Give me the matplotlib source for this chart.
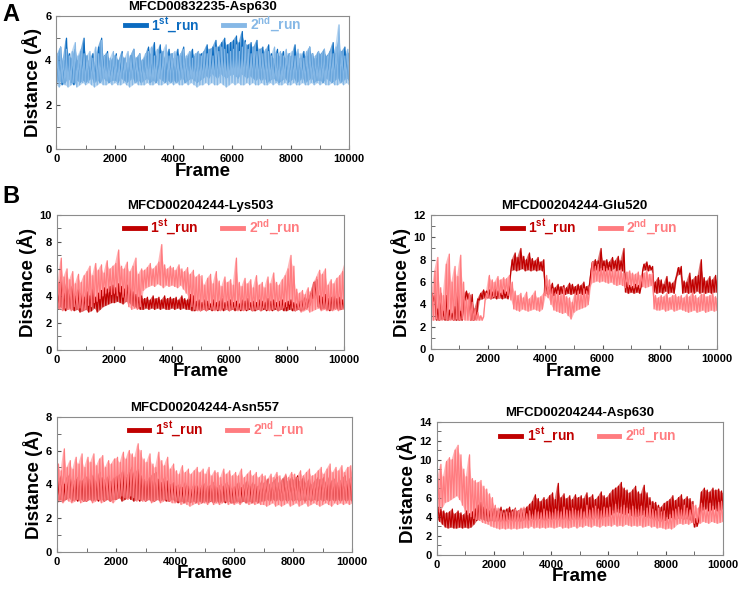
import numpy as np
import matplotlib
matplotlib.use('Agg')
import matplotlib.pyplot as plt

plt.rcParams['font.family'] = ['Liberation Sans', 'DejaVu Sans']
plt.rcParams['font.weight'] = 'bold'
plt.rcParams['mathtext.fontset'] = 'custom'
plt.rcParams['mathtext.rm'] = 'Liberation Sans:bold'
plt.rcParams['mathtext.bf'] = 'Liberation Sans:bold'
plt.rcParams['mathtext.default'] = 'rm'

# frames sampled every 100; each series is read as a low / high envelope
frames = np.arange(0, 10001, 100)

# MFCD00832235-Asp630
a1_low = [3.0,3.1,2.9,3.0,3.2,3.0,2.9,3.1,3.0,3.1, 3.0,3.1,3.2,3.0,3.1,3.0,3.2,3.1,3.0,3.1,
          3.1,3.0,3.2,3.1,3.0,3.1,3.2,3.0,3.1,3.0, 3.1,3.2,3.0,3.1,3.0,3.2,3.1,3.0,3.1,3.0,
          3.1,3.0,3.1,3.2,3.0,3.1,3.2,3.1,3.0,3.1, 3.2,3.3,3.2,3.4,3.3,3.2,3.4,3.3,3.2,3.3,
          3.4,3.3,3.2,3.4,3.3,3.2,3.3,3.2,3.1,3.2, 3.1,3.2,3.0,3.1,3.2,3.1,3.0,3.1,3.2,3.0,
          3.1,3.2,3.0,3.1,3.2,3.0,3.1,3.2,3.0,3.1, 3.1,3.0,3.2,3.1,3.0,3.1,3.2,3.0,3.1,3.2, 3.1]
a1_high = [4.2,4.6,4.0,5.0,4.3,4.1,4.5,4.0,4.4,5.0, 4.2,4.0,4.3,3.9,4.6,5.0,4.2,4.4,4.0,4.1,
           4.3,4.0,4.4,4.1,3.9,4.2,4.5,4.1,4.3,4.0, 4.2,4.6,4.3,4.8,4.2,4.7,4.4,4.1,4.5,4.3,
           4.1,4.5,4.2,4.6,4.1,4.3,4.5,4.2,4.4,4.3, 4.4,4.7,4.5,4.6,4.9,4.6,4.8,5.0,4.7,4.8,
           4.9,5.1,4.8,5.3,4.9,4.7,4.8,4.6,4.9,4.5, 4.6,4.4,4.7,4.3,4.1,4.5,4.2,4.4,4.1,4.3,
           4.2,4.7,4.3,4.1,4.4,4.2,4.6,4.3,4.1,4.4, 4.3,4.5,4.2,4.4,4.8,4.3,4.9,4.4,4.6,4.3, 4.4]
a2_low = [2.9,2.8,3.0,2.9,2.8,2.9,3.0,2.8,2.9,3.0, 2.9,3.0,2.9,2.8,2.9,3.0,2.9,2.9,3.0,2.9,
          3.0,2.9,2.9,3.0,2.9,2.8,2.9,3.0,2.9,2.9, 2.9,3.0,2.9,2.9,3.0,2.9,2.9,3.0,2.9,3.0,
          2.9,3.0,2.9,2.9,3.0,2.9,3.0,2.9,2.8,2.9, 2.9,3.0,2.9,3.0,2.9,2.9,3.0,2.9,2.8,2.9,
          3.0,2.9,3.0,2.9,2.9,3.0,2.9,3.0,2.9,2.9, 3.0,2.9,2.9,3.0,2.9,3.0,2.9,2.9,3.0,2.9,
          2.9,3.0,2.9,2.9,3.0,2.9,2.9,3.0,2.9,3.0, 2.9,3.0,2.9,2.9,3.0,2.9,2.9,3.0,2.9,3.0, 2.9]
a2_high = [4.3,4.6,4.1,4.5,4.2,4.4,4.8,4.2,4.5,4.3, 4.2,4.4,4.1,4.6,4.3,4.9,4.2,4.3,4.1,4.4,
           4.2,4.0,4.3,4.1,4.4,4.2,4.5,4.1,4.3,4.0, 4.3,4.4,4.6,4.2,4.5,4.3,4.4,4.7,4.2,4.3,
           4.4,4.2,4.3,4.5,4.2,4.4,4.1,4.3,4.4,4.2, 4.4,4.3,4.5,4.2,4.6,4.4,4.6,4.5,4.3,4.4,
           4.5,4.7,4.4,4.6,4.8,4.5,4.3,4.6,4.4,4.5, 4.3,4.5,4.4,4.2,4.6,4.3,4.4,4.2,4.5,4.3,
           4.4,4.2,4.5,4.3,4.1,4.4,4.6,4.3,4.2,4.4, 4.3,4.5,4.2,4.4,4.3,4.6,5.6,4.4,4.2,4.5, 4.3]

# MFCD00204244-Lys503
lys1_low = [3.0,3.2,3.0,2.9,3.1,3.0,2.9,3.0,2.8,2.9, 3.0,2.8,2.9,3.1,2.8,3.0,3.2,3.3,3.4,3.5,
            3.5,3.6,3.5,3.4,3.6,3.5,3.3,3.2,3.1,3.0, 3.0,3.1,3.0,3.1,3.0,3.1,3.0,3.1,3.0,3.0,
            3.1,3.0,3.1,3.0,3.1,3.0,3.0,2.9,2.9,3.0, 2.9,3.0,2.9,3.0,2.9,3.0,2.9,3.0,2.9,3.0,
            2.9,3.0,2.9,3.0,2.9,3.0,2.9,3.0,2.9,2.9, 3.0,2.9,3.0,2.9,3.0,2.9,3.0,2.9,3.0,2.9,
            2.9,3.0,2.9,2.9,3.0,2.9,3.0,3.1,3.3,3.8, 4.0,3.2,3.0,3.1,3.0,2.9,3.0,3.1,3.0,3.0, 3.1]
lys1_high = [4.6,5.4,4.2,5.0,4.4,4.8,4.0,4.5,4.2,3.9, 4.3,4.0,4.5,3.9,4.2,4.4,4.6,4.5,4.7,4.8,
             4.6,4.9,4.7,4.5,4.8,4.6,4.3,4.1,3.9,4.0, 3.8,3.9,3.7,4.0,3.8,3.9,3.7,4.0,3.8,3.9,
             3.8,3.9,3.7,4.0,3.8,3.7,4.1,4.0,3.6,3.7, 3.5,3.7,3.6,3.4,3.7,3.5,3.6,3.8,3.5,3.6,
             3.7,3.5,3.6,3.4,3.7,3.6,3.8,3.5,3.6,3.5, 3.7,3.6,3.5,3.8,3.6,3.7,3.5,3.6,3.7,3.5,
             3.6,3.7,3.5,3.4,3.6,3.7,3.9,3.8,4.2,5.0, 5.2,4.0,3.9,4.1,3.8,3.9,4.0,3.8,3.9,3.7, 3.9]
lys2_low = [3.2,3.0,2.9,3.1,3.0,2.9,3.2,3.0,3.1,2.9, 3.0,3.3,3.2,3.5,3.6,3.8,4.0,4.2,4.3,4.1,
            4.2,4.0,4.3,3.9,3.6,3.2,3.0,3.1,3.0,3.2, 4.4,4.6,4.7,4.8,4.7,4.9,4.8,4.6,4.8,4.7,
            4.8,4.7,4.6,4.8,4.5,4.2,3.8,3.2,3.0,2.9, 2.9,3.0,2.9,3.1,3.0,2.9,3.0,2.9,3.1,3.0,
            2.9,3.0,3.1,2.9,3.0,2.9,3.0,3.1,2.9,3.0, 3.0,2.9,3.1,3.0,2.9,3.0,3.1,2.9,3.0,3.1,
            3.2,3.4,3.1,2.9,3.0,2.8,2.9,3.0,2.8,2.9, 3.0,3.1,2.9,3.0,2.9,3.0,2.9,3.0,2.9,3.0, 3.0]
lys2_high = [5.0,6.8,5.4,6.0,5.2,5.8,4.9,5.6,5.0,5.5, 5.8,6.2,5.5,6.4,5.9,6.3,5.7,6.6,6.0,6.2,
             6.4,7.4,6.2,6.0,6.5,5.8,6.2,6.8,5.6,6.0, 5.9,6.1,6.4,6.0,6.2,6.5,7.8,6.3,6.0,6.2,
             6.1,5.9,6.3,6.0,5.8,6.1,5.6,5.9,5.4,5.6, 5.5,4.8,5.3,5.6,4.9,5.8,5.1,4.7,5.4,5.0,
             5.2,4.8,6.8,5.0,4.7,5.3,4.9,5.2,4.6,5.5, 4.8,5.0,4.6,5.4,4.9,5.7,5.0,4.8,5.2,5.5,
             6.0,7.0,6.2,4.5,4.2,4.4,4.1,4.6,4.3,5.0, 5.4,5.9,5.6,6.0,4.8,5.2,4.9,5.3,5.5,5.8, 6.5]

# MFCD00204244-Glu520
glu1_low = [4.2,4.3,2.6,2.6,2.7,2.6,2.6,2.7,2.6,2.6, 2.6,2.6,4.4,4.5,2.6,2.6,2.7,4.4,4.5,4.6,
            4.6,4.5,4.6,4.5,4.6,4.5,4.6,4.5,7.0,7.1, 7.0,7.1,7.2,7.0,7.1,7.0,7.1,7.0,7.1,7.0,
            5.0,4.9,5.0,4.8,5.0,4.9,5.0,4.9,5.0,4.9, 5.0,4.9,5.0,4.9,5.0,4.9,7.0,7.0,7.1,7.0,
            7.1,7.0,7.1,7.0,7.2,7.0,7.1,7.0,5.1,5.0, 5.1,5.0,5.1,5.0,7.0,7.1,7.0,7.1,5.1,5.0,
            5.1,5.0,5.2,5.0,5.1,5.0,6.6,6.7,5.0,5.1, 5.0,5.1,5.0,5.2,5.0,5.1,5.0,5.1,5.0,5.1, 5.1]
glu1_high = [5.0,4.8,3.6,5.0,3.4,4.8,3.5,3.2,3.8,5.2, 3.4,4.8,5.2,5.0,4.9,3.6,4.5,5.0,5.3,5.2,
             5.3,5.1,5.4,5.2,5.0,5.3,5.1,5.4,8.0,8.6, 8.2,9.0,8.3,8.0,8.6,8.1,7.9,8.2,7.8,8.0,
             5.8,5.6,5.9,5.5,5.8,5.6,5.7,5.5,5.9,5.8, 5.6,5.8,5.7,6.0,5.6,5.8,7.8,8.0,7.9,9.0,
             7.9,8.0,7.8,8.2,7.9,8.3,7.9,9.0,6.0,5.7, 5.6,5.8,5.7,5.6,7.6,7.8,7.5,7.4,6.0,6.4,
             6.2,5.8,6.5,6.0,5.9,6.2,7.3,7.4,6.1,6.0, 6.8,6.2,6.5,6.6,8.0,6.4,6.1,6.5,6.2,6.6, 6.0]
glu2_low = [2.6,2.6,2.7,2.6,2.6,2.7,2.6,2.6,2.6,2.7, 2.6,2.7,2.6,2.6,2.6,2.6,2.6,2.6,2.6,4.4,
            4.6,4.5,4.7,4.8,4.6,4.9,5.0,4.8,4.4,3.6, 3.5,3.4,3.6,3.5,3.4,3.5,3.6,3.5,3.4,3.6,
            4.8,4.6,4.0,3.5,3.4,3.3,3.2,3.3,3.0,2.7, 3.3,3.5,3.6,3.7,3.8,4.0,5.9,6.0,6.1,6.0,
            6.1,6.0,5.9,6.0,5.8,5.7,5.8,5.7,5.5,5.6, 5.6,5.5,5.6,5.5,5.6,5.5,5.6,5.7,3.6,3.5,
            3.5,3.6,3.4,3.5,3.6,3.4,3.5,3.6,3.5,3.4, 3.3,3.4,3.5,3.3,3.4,3.5,3.3,3.4,3.5,3.4, 3.5]
glu2_high = [5.0,7.0,8.2,5.5,4.8,7.6,8.5,6.0,7.4,6.5, 8.4,6.0,4.6,5.0,4.2,3.6,3.3,3.0,2.9,5.0,
             6.6,6.2,6.0,6.5,6.2,6.4,6.3,6.6,6.0,5.2, 4.8,5.0,4.6,5.1,4.5,4.8,5.2,4.6,4.7,5.0,
             6.6,6.2,5.4,5.0,5.2,4.8,5.5,4.7,4.6,4.2, 5.0,5.2,4.9,5.4,5.2,5.5,7.8,7.4,7.6,7.2,
             7.4,7.2,7.3,7.0,7.2,7.0,7.1,6.8,6.9,7.0, 6.8,6.7,6.9,6.6,6.8,7.0,6.7,6.8,4.8,4.6,
             4.8,4.7,5.0,4.6,4.8,4.9,4.7,4.8,4.6,4.9, 4.7,5.1,4.8,4.6,4.9,5.0,4.7,4.8,5.0,4.7, 4.6]

# MFCD00204244-Asn557
asn1_low = [3.0,3.1,3.0,3.1,3.2,3.0,3.1,3.0,3.1,3.0, 3.0,3.1,3.0,3.1,3.0,3.1,3.0,3.1,3.0,3.1,
            3.1,3.2,3.0,3.1,3.2,3.1,3.0,3.1,3.0,3.1, 3.0,3.1,3.0,3.0,3.1,3.0,3.1,3.0,3.0,3.1,
            3.0,2.9,3.0,2.9,3.0,2.9,3.0,2.9,3.0,2.9, 3.0,2.9,3.0,2.9,3.0,2.9,3.0,2.9,3.0,2.9,
            2.9,3.0,2.9,3.0,2.9,3.0,2.9,3.0,2.9,3.0, 3.0,3.1,3.0,3.1,3.0,3.1,3.0,3.1,3.0,3.1,
            3.0,3.1,3.0,3.1,3.0,3.1,3.0,3.1,3.0,3.1, 3.0,3.1,3.0,3.1,3.0,3.1,3.0,3.1,3.0,3.1, 3.0]
asn1_high = [4.2,4.5,4.0,4.4,4.6,4.1,4.3,4.5,4.2,4.4, 4.5,4.3,4.6,4.2,4.7,4.4,4.3,4.5,4.2,4.4,
             4.5,4.6,4.8,4.4,4.7,5.0,4.6,4.9,4.5,4.3, 4.2,4.4,4.6,4.7,4.3,4.1,4.4,4.2,4.0,4.1,
             3.9,4.0,3.8,4.1,3.9,3.7,4.0,3.9,3.8,4.0, 4.1,3.9,4.0,4.2,3.8,4.0,3.9,4.1,4.0,3.8,
             3.9,4.1,3.8,4.0,4.2,3.9,4.1,4.0,3.9,4.2, 4.1,4.3,4.0,4.2,4.4,4.1,4.3,4.5,4.2,4.4,
             4.3,4.5,4.2,4.4,4.1,4.3,4.0,4.2,4.4,4.3, 4.4,4.1,4.5,4.2,4.4,4.1,4.3,4.5,4.2,4.4, 4.2]
asn2_low = [2.9,3.0,2.9,3.1,3.0,2.9,3.0,3.1,2.9,3.0, 3.0,3.1,2.9,3.0,3.1,2.9,3.0,3.1,3.0,2.9,
            3.1,3.2,3.3,3.2,3.1,3.3,3.2,3.0,3.1,3.0, 3.0,3.1,2.9,3.0,3.1,2.9,3.0,3.1,3.0,2.9,
            2.9,3.0,2.8,2.9,2.8,2.7,2.8,2.9,2.8,2.9, 2.9,2.8,3.0,2.8,2.9,2.8,2.9,3.0,2.8,2.9,
            2.8,2.9,2.8,3.0,2.9,2.8,2.9,2.8,2.9,2.8, 2.8,2.7,2.8,2.9,2.7,2.8,2.7,2.8,2.9,2.7,
            2.8,2.9,2.7,2.8,2.9,2.7,2.8,2.9,2.8,2.7, 2.8,2.9,2.8,2.7,2.9,2.8,2.9,2.8,2.9,2.8, 2.9]
asn2_high = [5.2,4.8,6.1,5.0,5.4,4.9,5.6,5.2,5.8,5.0, 5.6,5.3,5.8,5.1,5.5,5.7,5.0,5.4,5.2,5.5,
             5.6,5.3,5.9,5.5,6.0,5.8,5.6,6.4,6.0,5.5, 5.3,5.8,5.2,5.0,5.9,5.4,5.1,5.6,4.9,5.2,
             4.8,4.6,5.1,4.7,4.9,4.6,4.8,5.0,4.7,4.9, 4.6,5.0,4.5,4.8,4.7,4.4,4.9,4.6,4.8,4.5,
             4.7,4.5,4.9,4.4,4.6,4.8,4.5,4.7,4.4,4.6, 4.5,4.3,4.6,4.4,4.7,4.5,4.3,4.6,4.4,4.7,
             4.6,4.4,4.8,4.5,4.7,4.9,4.5,4.6,4.8,5.0, 4.6,4.9,5.2,4.7,5.0,4.8,5.1,4.7,5.0,5.1, 4.6]

# MFCD00204244-Asp630
asp1_low = [3.8,3.5,3.2,2.9,2.8,2.9,2.8,2.8,2.9,2.8, 2.9,2.8,2.9,3.2,3.6,3.8,3.7,3.6,3.5,3.6,
            3.5,3.6,3.5,3.6,3.5,3.7,3.6,3.5,3.6,3.5, 3.6,3.7,3.6,3.8,3.7,3.6,3.8,3.7,3.6,3.8,
            3.7,3.8,3.6,3.8,3.7,3.8,3.6,3.7,3.8,3.7, 3.8,3.7,3.9,3.8,3.7,3.9,3.8,3.7,3.9,4.0,
            4.0,4.2,4.4,4.5,4.4,4.3,4.2,4.4,4.1,4.0, 4.0,4.1,4.2,4.0,3.9,3.8,3.7,3.6,3.5,3.6,
            3.6,3.8,3.9,3.7,3.8,3.9,3.7,3.8,3.7,3.6, 2.9,3.0,4.6,4.7,4.8,4.6,4.7,4.8,4.6,4.7, 4.8]
asp1_high = [5.0,4.8,4.6,4.4,4.5,4.8,4.3,4.6,4.4,4.2, 4.6,4.3,4.5,4.8,5.2,5.5,5.0,4.8,4.6,4.9,
             4.9,4.6,5.0,4.7,4.8,5.0,4.7,4.9,4.6,4.8, 4.8,5.0,5.3,5.6,6.3,5.9,5.6,6.0,5.8,6.2,
             6.5,5.8,7.5,6.0,6.4,5.9,6.2,5.8,6.3,6.0, 6.2,5.9,6.5,6.0,6.3,5.8,6.1,6.6,6.2,6.0,
             6.4,6.8,7.0,7.2,7.6,7.0,6.8,6.5,6.8,7.2, 6.6,6.4,7.3,6.5,6.0,5.6,5.5,5.2,5.0,5.4,
             5.6,5.8,6.2,5.7,6.0,6.3,5.8,6.1,5.9,5.6, 3.8,3.6,6.6,7.0,6.8,6.6,7.0,6.8,6.9,6.7, 6.5]
asp2_low = [4.0,4.5,5.0,5.5,5.6,5.8,6.0,6.2,5.8,5.2, 4.5,4.2,4.0,3.8,3.7,3.6,3.4,3.3,3.2,3.0,
            2.9,2.8,2.7,2.8,2.7,2.8,2.7,2.8,2.7,2.8, 2.8,2.9,2.8,3.0,2.8,2.9,2.8,2.9,2.8,2.9,
            2.9,2.8,2.9,3.0,2.8,2.9,2.8,2.9,3.0,2.8, 3.0,2.9,3.1,3.0,2.9,3.1,3.0,2.9,3.1,3.0,
            3.1,3.0,3.2,3.0,3.1,3.0,3.2,3.1,3.0,3.1, 3.0,3.1,2.9,3.0,3.1,2.9,3.0,2.8,2.9,2.8,
            2.7,2.8,2.7,2.9,3.2,3.3,3.2,3.3,3.2,3.4, 3.3,3.4,3.3,3.5,3.4,3.3,3.5,3.4,3.3,3.4, 3.5]
asp2_high = [8.0,9.5,8.2,9.8,10.2,10.0,11.0,11.5,10.5,9.0, 8.2,10.5,8.0,7.8,7.6,7.8,7.2,6.9,6.4,6.0,
             5.2,4.9,4.6,4.4,4.5,4.4,4.5,4.8,4.6,4.9, 5.0,4.3,4.6,4.2,4.7,4.5,4.4,4.8,4.6,4.5,
             4.4,4.8,4.6,4.5,5.0,4.7,4.6,4.9,4.7,4.6, 4.8,4.5,5.2,4.7,4.9,5.1,4.8,4.6,5.0,4.9,
             5.0,4.6,5.3,4.8,5.0,5.2,4.9,4.7,5.1,4.8, 4.7,5.1,4.6,4.9,5.2,4.8,4.6,4.9,4.5,4.6,
             3.9,4.2,4.6,4.8,5.0,4.7,5.2,4.9,4.7,5.3, 5.2,4.9,5.4,5.0,4.8,5.4,5.1,4.8,5.5,5.6, 5.5]

blue1, blue2 = '#0B6BC0', '#86B8E6'
red1, red2 = '#C00000', '#FF7C80'

fig = plt.figure(figsize=(7.4, 5.92), dpi=100)


def trace(ax, low, high, color, label):
    # solid core of the band, then zigzag between low and high readings
    ax.fill_between(frames, low, high, color=color, alpha=0.55, lw=0)
    x = np.column_stack([frames, frames + 50]).ravel()
    y = np.column_stack([low, high]).ravel()
    ax.plot(x, y, color=color, lw=0.9, label=label)


def panel(rect, title, r1, r2, ymax, c1, c2, legx=0.54, legy=1.02):
    ax = fig.add_axes(rect)
    trace(ax, r1[0], r1[1], c1, '1$^{st}$_run')
    trace(ax, r2[0], r2[1], c2, '2$^{nd}$_run')
    ax.set_xlim(0, 10000)
    ax.set_ylim(0, ymax)
    ax.set_xticks(np.arange(0, 10001, 2000))
    ax.set_xticks(np.arange(0, 10001, 1000), minor=True)
    ax.set_yticks(np.arange(0, ymax + 1, 2))
    ax.set_yticks(np.arange(0, ymax + 1, 1), minor=True)
    ax.tick_params(which='both', direction='in', labelsize=8, length=3, color='#555555')
    for s in ax.spines.values():
        s.set_color('#8c8c8c')
        s.set_linewidth(0.8)
    for lab in ax.get_xticklabels() + ax.get_yticklabels():
        lab.set_fontweight('bold')
    ax.set_title(title, fontsize=9.5, fontweight='bold', pad=4)
    ax.set_xlabel('Frame', fontsize=13.5, fontweight='bold', labelpad=-1)
    ax.set_ylabel('Distance (Å)', fontsize=13.5, fontweight='bold', labelpad=2)
    leg = ax.legend(loc='upper center', ncol=2, frameon=False, fontsize=10,
                    handlelength=1.5, columnspacing=1.7, borderaxespad=0.0,
                    handletextpad=0.4, bbox_to_anchor=(legx, legy))
    for line in leg.get_lines():
        line.set_linewidth(3.5)
    for txt, c in zip(leg.get_texts(), [c1, c2]):
        txt.set_color(c)
    return ax


panel([0.076, 0.748, 0.396, 0.225], 'MFCD00832235-Asp630',
      (a1_low, a1_high), (a2_low, a2_high), 6, blue1, blue2, 0.535, 1.05)
panel([0.077, 0.409, 0.388, 0.228], 'MFCD00204244-Lys503',
      (lys1_low, lys1_high), (lys2_low, lys2_high), 10, red1, red2, 0.54)
panel([0.582, 0.410, 0.387, 0.227], 'MFCD00204244-Glu520',
      (glu1_low, glu1_high), (glu2_low, glu2_high), 12, red1, red2, 0.555)
panel([0.077, 0.068, 0.399, 0.228], 'MFCD00204244-Asn557',
      (asn1_low, asn1_high), (asn2_low, asn2_high), 8, red1, red2, 0.54)
panel([0.590, 0.063, 0.387, 0.225], 'MFCD00204244-Asp630',
      (asp1_low, asp1_high), (asp2_low, asp2_high), 14, red1, red2, 0.53, 1.01)

fig.text(0.003, 0.995, 'A', fontsize=17, fontweight='bold', va='top')
fig.text(0.003, 0.688, 'B', fontsize=17, fontweight='bold', va='top')

fig.savefig('out.png', dpi=100)
